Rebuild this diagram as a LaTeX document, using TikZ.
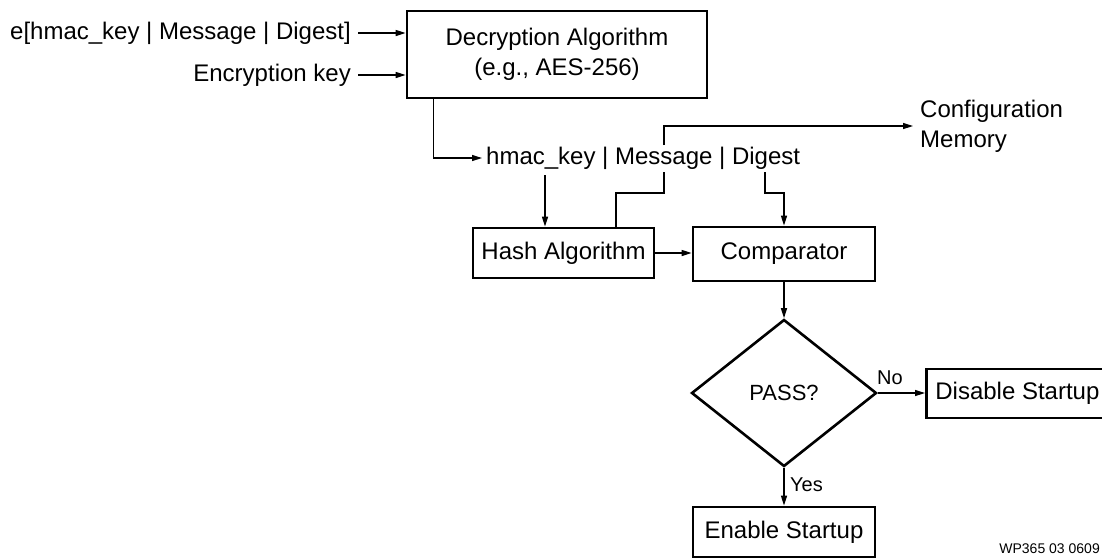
\documentclass[tikz,border=0pt]{standalone}
\usepackage{fontspec}
\setmainfont{Liberation Sans}
\usetikzlibrary{arrows.meta,shapes.geometric}
\begin{document}
\begin{tikzpicture}[x=1pt,y=-1pt,
  font=\fontsize{24}{30}\selectfont,
  box/.style={draw,line width=2.8pt,inner sep=0pt,align=center},
  conn/.style={line width=1.4pt},
  arr/.style={conn,-{Triangle[length=10pt,width=6pt]}},
  lbl/.style={inner sep=0pt},
  small/.style={font=\fontsize{20}{24}\selectfont}]
\clip (0,0) rectangle (1102,558);
% decryption
\node[box,minimum width=300pt,minimum height=87pt] (dec) at (557,54.5) {Decryption Algorithm\\(e.g., AES-256)};
\node[anchor=east,inner xsep=7pt,inner ysep=0pt] (ein) at (358,33) {e[hmac\_key | Message | Digest]};
\node[anchor=east,inner xsep=7pt,inner ysep=0pt] (ekey) at (358,75) {Encryption key};
\draw[arr] (ein) -- (dec.west |- ein);
\draw[arr] (ekey) -- (dec.west |- ekey);
% decrypted data
\node[anchor=west,inner xsep=4pt,inner ysep=0pt] (hm) at (482,158) {hmac\_key | Message | Digest};
\draw[arr] ([xshift=28pt]dec.south west) |- (hm.west);
% hash and comparator
\node[box,minimum width=181pt,minimum height=50pt] (hash) at (563.5,253) {Hash Algorithm};
\node[box,minimum width=182pt,minimum height=54pt] (comp) at (784,254) {Comparator};
\draw[arr] (hash.east) -- (comp.west |- hash.east);
% configuration memory
\node[anchor=west,align=left,inner xsep=7pt,inner ysep=0pt] (cfg) at (913,126) {Configuration\\Memory};
\coordinate (hk) at (545,175);
\coordinate (ms) at (664,172);
\coordinate (mt) at (664,145);
\coordinate (dg) at (765,172);
\draw[arr] (hk) -- (hash.north -| hk);
\draw[conn] (ms) -- ++(0,21) -| ([xshift=52.5pt]hash.north);
\draw[arr] (mt) |- (cfg.west);
\draw[arr] (dg) -- ++(0,21) -| (comp.north);
% decision
\node[draw,diamond,line width=2.6pt,minimum width=185pt,minimum height=147pt,inner sep=0pt,font=\fontsize{22}{26}\selectfont] (pass) at (784,393) {PASS?};
\draw[arr] (comp) -- (pass);
\node[box,minimum width=182pt,minimum height=49pt,anchor=west] (dis) at (925,393.5) {Disable Startup};
\draw[arr] (pass.east) -- (dis.west |- pass.east);
\node[lbl,small] (no) at (890,378) {No};
\node[box,minimum width=182pt,minimum height=50pt] (en) at (784,532) {Enable Startup};
\draw[arr] (pass.south) -- (en.north);
\node[lbl,small,anchor=west] (yes) at (790,485) {Yes};
\node[anchor=base east,font=\fontsize{14}{16}\selectfont,inner sep=0pt] (wp) at (1100,553) {WP365 03 0609};
\end{tikzpicture}
\end{document}
